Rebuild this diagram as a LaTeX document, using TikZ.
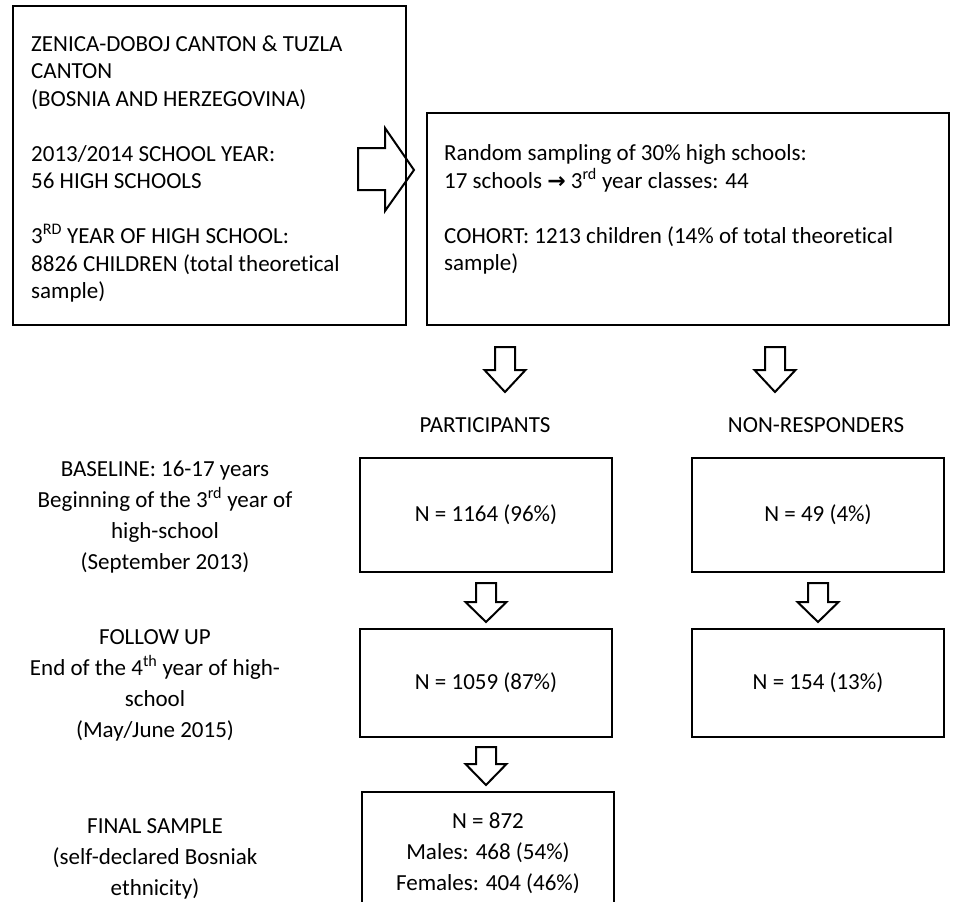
\documentclass[tikz,border=0pt]{standalone}
\usepackage{fontspec}
\setmainfont{Carlito}[Ligatures=NoCommon]
\newfontfamily\arrowfont{DejaVu Sans}
\newcommand\blockdown[4]{% x, top, head base, tip
  \draw[blockarrow] (#1-10,#2) -- (#1+10,#2) -- (#1+10,#3) -- (#1+20.5,#3) -- (#1,#4) -- (#1-20.5,#3) -- (#1-10,#3) -- cycle;}
\begin{document}
\begin{tikzpicture}[x=1pt,y=-1pt,
  box/.style={draw,line width=2.2pt,inner sep=0pt},
  blockarrow/.style={draw,line width=2pt,line join=miter},
  toptext/.style={align=left,inner sep=0pt,font=\fontsize{23}{27.5}\selectfont},
  lowtext/.style={align=center,inner sep=0pt,font=\fontsize{23}{31}\selectfont},
  ntext/.style={inner sep=0pt,font=\fontsize{23}{31}\selectfont}]
\clip (0,0) rectangle (953,902);
\fill[white] (0,0) rectangle (953,902);
% top boxes
\node[box,minimum width=393pt,minimum height=319pt] (box1) at (209.5,165.5) {};
\node[box,minimum width=522pt,minimum height=212pt] (box2) at (688,219) {};
\node[toptext,anchor=north west] (t1) at (31,35.5) {ZENICA-DOBOJ CANTON \& TUZLA\\CANTON\\(BOSNIA AND HERZEGOVINA)\\[27.5pt]2013/2014 SCHOOL YEAR:\\56 HIGH SCHOOLS\\[27.5pt]3\textsuperscript{RD} YEAR OF HIGH SCHOOL:\\8826 CHILDREN (total theoretical\\sample)};
\node[toptext,anchor=north west] (t2) at (444,144.5) {Random sampling of 30\% high schools:\\17 schools {\arrowfont\bfseries\fontsize{22}{27.5}\selectfont →} 3\textsuperscript{rd} year classes: 44\\[27.5pt]COHORT: 1213 children (14\% of total theoretical\\sample)};
% right block arrow
\draw[blockarrow] (358,148) -- (385,148) -- (385,128) -- (414,170) -- (385,211) -- (385,190) -- (358,190) -- cycle;
% down arrows from cohort
\blockdown{505}{347}{370}{392}
\blockdown{775}{347}{370}{392}
% column headers
\node[ntext] (part) at (485,425) {PARTICIPANTS};
\node[ntext] (nonr) at (816,425) {NON-RESPONDERS};
% baseline row
\node[box,minimum width=252pt,minimum height=114pt] (pb) at (486,515) {};
\node[ntext] at (pb.center) {N = 1164 (96\%)};
\node[box,minimum width=252pt,minimum height=114pt] (nb) at (818,515) {};
\node[ntext] at (nb.center) {N = 49 (4\%)};
\node[lowtext,anchor=north] (lb) at (165,460.5) {BASELINE: 16-17 years\\Beginning of the 3\textsuperscript{rd} year of\\high-school\\(September 2013)};
\blockdown{486}{583}{602}{622}
\blockdown{818}{583}{602}{622}
% follow-up row
\node[box,minimum width=252pt,minimum height=108pt] (pf) at (486,683) {};
\node[ntext] at (pf.center) {N = 1059 (87\%)};
\node[box,minimum width=252pt,minimum height=108pt] (nf) at (818,683) {};
\node[ntext] at (nf.center) {N = 154 (13\%)};
\node[lowtext,anchor=north] (lf) at (155,629.5) {FOLLOW UP\\End of the 4\textsuperscript{th} year of high-\\school\\(May/June 2015)};
\blockdown{486}{747}{764}{785}
% final sample
\node[box,minimum width=252pt,minimum height=130pt] (fs) at (488,857) {};
\node[lowtext,anchor=north] at (488,812.5) {N = 872\\Males: 468 (54\%)\\Females: 404 (46\%)};
\node[lowtext,anchor=north] (lfs) at (155,818.5) {FINAL SAMPLE\\(self-declared Bosniak\\ethnicity)};
\end{tikzpicture}
\end{document}
